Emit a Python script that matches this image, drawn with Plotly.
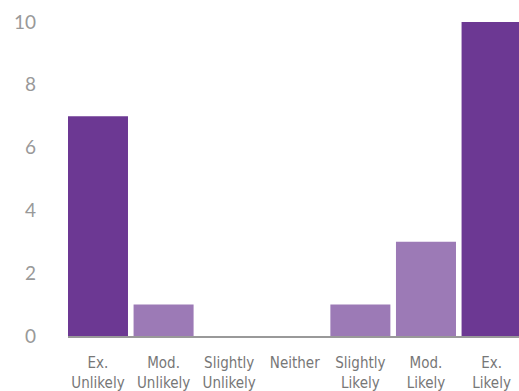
import plotly.graph_objects as go

categories = ["Ex.<br>Unlikely", "Mod.<br>Unlikely", "Slightly<br>Unlikely", "Neither",
              "Slightly<br>Likely", "Mod.<br>Likely", "Ex.<br>Likely"]
values = [7, 1, 0, 0, 1, 3, 10]
colors = ["#6C3893", "#9C7AB6", "#9C7AB6", "#9C7AB6", "#9C7AB6", "#9C7AB6", "#6C3893"]
y_ticks = [0, 2, 4, 6, 8, 10]

fig = go.Figure(go.Bar(
    x=list(range(len(categories))), y=values,
    marker=dict(color=colors, line=dict(width=0)),
    width=0.915,
))

fig.update_layout(
    width=519, height=391,
    margin=dict(l=68, r=0, t=10, b=55),
    paper_bgcolor="white", plot_bgcolor="white",
    showlegend=False,
    xaxis=dict(
        range=[-0.457, 6.418],
        tickmode="array", tickvals=list(range(len(categories))), ticktext=categories,
        showgrid=False, zeroline=False,
        showline=True, linecolor="#999999", linewidth=2,
        ticks="", ticklabelstandoff=12,
        tickfont=dict(family="DejaVu Sans Condensed, Roboto, sans-serif", size=15, color="#777777"),
    ),
    yaxis=dict(
        range=[0, 10.38],
        tickmode="array", tickvals=y_ticks,
        showgrid=False, zeroline=False, showline=False,
        ticks="", ticklabelstandoff=31,
        tickfont=dict(family="Lato", size=19, color="#999999"),
    ),
)

fig.write_html("out.html")
